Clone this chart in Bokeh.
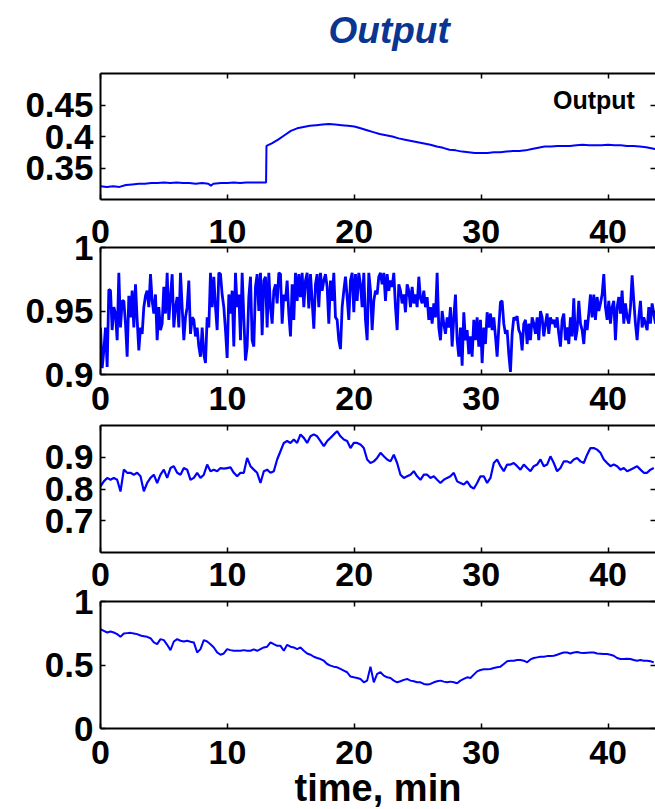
import numpy as np
from bokeh.plotting import figure
from bokeh.models import Range1d, LinearAxis, FixedTicker, Legend, LegendItem, Title
from bokeh.core.properties import value
from bokeh.layouts import column
from bokeh.embed import file_html
from bokeh.resources import INLINE

FONT = "Liberation Sans"
LINE_BLUE = "#0000ff"
TITLE_BLUE = "#0a3591"

# shared time axis, minutes
time_ticks = [0, 10, 20, 30, 40]
time_end = 43.74

# --- panel 1: process output ---
out_t = [0, 0.5, 1, 1.5, 2, 2.5, 3, 3.5, 4, 4.5, 5, 5.5, 6, 6.5, 7, 7.5, 8, 8.5, 8.7, 8.9,
         9.5, 10, 10.5, 11, 11.5, 12, 12.5, 13.05, 13.08, 13.5, 14, 14.5, 15, 15.5, 16, 16.5,
         17, 17.5, 18, 18.5, 19, 19.5, 20, 20.5, 21, 21.5, 22, 22.5, 23, 23.5, 24, 24.5, 25,
         25.5, 26, 26.5, 27, 27.5, 28, 28.5, 29, 29.5, 30, 30.5, 31, 31.5, 32, 32.5, 33, 33.5,
         34, 34.5, 35, 35.5, 36, 36.5, 37, 37.5, 38, 38.5, 39, 39.5, 40, 40.5, 41, 41.5, 42,
         42.5, 43, 43.5, 43.74]
out_v = [0.321, 0.320, 0.321, 0.320, 0.323, 0.324, 0.325, 0.325, 0.326, 0.326, 0.327, 0.326,
         0.327, 0.326, 0.326, 0.325, 0.326, 0.325, 0.322, 0.325, 0.326, 0.326, 0.327, 0.326,
         0.327, 0.327, 0.327, 0.327, 0.385, 0.389, 0.395, 0.402, 0.409, 0.413, 0.415, 0.417,
         0.418, 0.419, 0.420, 0.419, 0.418, 0.417, 0.416, 0.413, 0.410, 0.407, 0.404, 0.402,
         0.400, 0.397, 0.395, 0.393, 0.391, 0.389, 0.387, 0.384, 0.382, 0.379, 0.378, 0.376,
         0.375, 0.374, 0.374, 0.374, 0.375, 0.375, 0.376, 0.377, 0.377, 0.378, 0.380, 0.382,
         0.384, 0.384, 0.385, 0.385, 0.385, 0.386, 0.387, 0.386, 0.386, 0.386, 0.387, 0.386,
         0.386, 0.385, 0.385, 0.384, 0.383, 0.381, 0.380]
out_ticks = [0.35, 0.4, 0.45]
out_tick_labels = ["0.35", "0.4", "0.45"]

# --- panel 2: fast, noisy input ---
fast_step = 0.13134  # minutes between samples
fast_v = [
    0.937, 0.905, 0.919, 0.937, 0.906, 0.967, 0.966, 0.935, 0.953, 0.948,
    0.927, 0.980, 0.937, 0.958, 0.958, 0.940, 0.914, 0.962, 0.945, 0.966,
    0.937, 0.971, 0.943, 0.919, 0.937, 0.932, 0.953, 0.962, 0.966, 0.953,
    0.979, 0.958, 0.948, 0.963, 0.927, 0.953, 0.935, 0.940, 0.969, 0.948,
    0.980, 0.943, 0.961, 0.979, 0.937, 0.953, 0.961, 0.937, 0.980, 0.953,
    0.927, 0.945, 0.953, 0.974, 0.932, 0.945, 0.943, 0.930, 0.937, 0.922,
    0.914, 0.937, 0.916, 0.909, 0.945, 0.937, 0.980, 0.953, 0.977, 0.953,
    0.935, 0.980, 0.979, 0.963, 0.953, 0.935, 0.913, 0.963, 0.948, 0.966,
    0.922, 0.980, 0.953, 0.963, 0.927, 0.980, 0.945, 0.911, 0.922, 0.961,
    0.977, 0.927, 0.922, 0.969, 0.979, 0.950, 0.980, 0.931, 0.974, 0.977,
    0.937, 0.980, 0.953, 0.940, 0.966, 0.971, 0.956, 0.980, 0.979, 0.940,
    0.963,
    0.958, 0.974, 0.948, 0.930, 0.971, 0.943, 0.980, 0.958, 0.979, 0.961,
    0.980, 0.953, 0.974, 0.980, 0.952, 0.979, 0.958, 0.936, 0.971, 0.979,
    0.953, 0.980, 0.966, 0.974, 0.979, 0.969, 0.940, 0.974, 0.958, 0.980,
    0.945, 0.943, 0.927, 0.920, 0.953, 0.966, 0.977, 0.961, 0.943, 0.974,
    0.980, 0.949, 0.979, 0.958, 0.980, 0.971, 0.953, 0.980, 0.943, 0.927,
    0.980, 0.966, 0.935, 0.958, 0.966, 0.963, 0.977, 0.980, 0.971, 0.980,
    0.958, 0.979, 0.966, 0.974, 0.969, 0.980, 0.953, 0.935, 0.971, 0.966,
    0.956, 0.963, 0.949, 0.971, 0.966, 0.953, 0.969, 0.956, 0.963, 0.953,
    0.977, 0.960, 0.956, 0.966, 0.953, 0.961, 0.943, 0.953, 0.940, 0.956,
    0.945, 0.980, 0.937, 0.927, 0.950, 0.940, 0.932, 0.945, 0.937, 0.953,
    0.922, 0.945, 0.963, 0.927, 0.914, 0.937, 0.907, 0.949, 0.927, 0.935,
    0.916,
    0.930, 0.914, 0.943, 0.927, 0.945, 0.922, 0.943, 0.909, 0.937, 0.924,
    0.949, 0.937, 0.948, 0.935, 0.945, 0.930, 0.914, 0.937, 0.957, 0.958,
    0.940, 0.932, 0.935, 0.916, 0.902, 0.932, 0.945, 0.943, 0.946, 0.935,
    0.932, 0.919, 0.940, 0.943, 0.924, 0.940, 0.927, 0.945, 0.940, 0.932,
    0.945, 0.927, 0.950, 0.945, 0.930, 0.940, 0.948, 0.932, 0.945, 0.940,
    0.943, 0.937, 0.945, 0.932, 0.922, 0.943, 0.948, 0.927, 0.937, 0.924,
    0.945, 0.930, 0.960, 0.927, 0.935, 0.958, 0.940, 0.935, 0.924, 0.943,
    0.935, 0.948, 0.963, 0.945, 0.963, 0.943, 0.961, 0.950, 0.956, 0.963,
    0.979, 0.953, 0.943, 0.958, 0.940, 0.953, 0.958, 0.927, 0.953, 0.961,
    0.948, 0.966, 0.940, 0.956, 0.945, 0.940, 0.953, 0.978, 0.958, 0.940,
    0.927, 0.945, 0.958, 0.937, 0.945, 0.940, 0.935, 0.953, 0.940, 0.956,
    0.948, 0.940,
]
fast_ticks = [0.9, 0.95, 1.0]
fast_tick_labels = ["0.9", "0.95", "1"]

# --- panels 3 and 4: slower inputs ---
slow_step = 0.26268  # minutes between samples
mid_v = [
    0.808, 0.824, 0.835, 0.829, 0.835, 0.829, 0.792, 0.861, 0.851, 0.851,
    0.845, 0.851, 0.840, 0.793, 0.819, 0.835, 0.845, 0.819, 0.845, 0.861,
    0.835, 0.866, 0.872, 0.851, 0.845, 0.866, 0.861, 0.829, 0.835, 0.851,
    0.835, 0.845, 0.877, 0.856, 0.861, 0.856, 0.866, 0.864, 0.866, 0.868,
    0.851, 0.840, 0.851, 0.851, 0.898, 0.872, 0.861, 0.851, 0.819, 0.856,
    0.861, 0.851, 0.856, 0.893, 0.919, 0.945, 0.951, 0.945, 0.956, 0.945,
    0.972, 0.961, 0.945, 0.966, 0.972, 0.966,
    0.951, 0.935, 0.951, 0.961, 0.972, 0.982, 0.966, 0.956, 0.951, 0.929,
    0.945, 0.945, 0.940, 0.929, 0.893, 0.882, 0.887, 0.898, 0.914, 0.903,
    0.893, 0.887, 0.908, 0.882, 0.845, 0.835, 0.840, 0.845, 0.856, 0.840,
    0.829, 0.845, 0.845, 0.835, 0.840, 0.829, 0.819, 0.829, 0.835, 0.840,
    0.851, 0.824, 0.819, 0.814, 0.824, 0.808, 0.801, 0.819, 0.840, 0.840,
    0.819, 0.835, 0.882, 0.893, 0.872, 0.856, 0.877, 0.877, 0.882, 0.872,
    0.861, 0.877, 0.866, 0.856, 0.872, 0.877, 0.893, 0.872, 0.877, 0.903,
    0.882, 0.856, 0.866, 0.887, 0.887, 0.882, 0.893, 0.898, 0.887, 0.882,
    0.908, 0.929, 0.929, 0.924, 0.914, 0.893, 0.882, 0.872, 0.877, 0.872,
    0.861, 0.866, 0.856, 0.861, 0.866, 0.872, 0.861, 0.851, 0.851, 0.861,
    0.866,
]
mid_ticks = [0.7, 0.8, 0.9]
mid_tick_labels = ["0.7", "0.8", "0.9"]

low_v = [
    0.782, 0.769, 0.756, 0.764, 0.756, 0.743, 0.722, 0.748, 0.751, 0.753,
    0.748, 0.743, 0.732, 0.727, 0.722, 0.711, 0.678, 0.664, 0.704, 0.696,
    0.659, 0.617, 0.685, 0.704, 0.691, 0.685, 0.691, 0.683, 0.678, 0.599,
    0.625, 0.696, 0.685, 0.664, 0.638, 0.599, 0.581, 0.591, 0.625, 0.617,
    0.612, 0.612, 0.612, 0.617, 0.612, 0.612, 0.623, 0.612, 0.625, 0.638,
    0.644, 0.678, 0.664, 0.651, 0.651, 0.612, 0.659, 0.644, 0.638, 0.625,
    0.638, 0.612, 0.591, 0.581, 0.565, 0.555,
    0.547, 0.534, 0.508, 0.495, 0.487, 0.482, 0.469, 0.456, 0.443, 0.409,
    0.403, 0.398, 0.390, 0.364, 0.377, 0.487, 0.364, 0.430, 0.443, 0.416,
    0.403, 0.398, 0.377, 0.364, 0.372, 0.383, 0.390, 0.377, 0.372, 0.364,
    0.364, 0.351, 0.346, 0.351, 0.364, 0.372, 0.377, 0.369, 0.364, 0.369,
    0.364, 0.356, 0.377, 0.390, 0.403, 0.398, 0.424, 0.450, 0.461, 0.466,
    0.466, 0.469, 0.477, 0.482, 0.487, 0.508, 0.529, 0.534, 0.534, 0.539,
    0.539, 0.534, 0.521, 0.544, 0.555, 0.560, 0.565, 0.565, 0.570, 0.570,
    0.573, 0.581, 0.591, 0.599, 0.599, 0.591, 0.599, 0.602, 0.597, 0.594,
    0.597, 0.599, 0.599, 0.591, 0.589, 0.586, 0.586, 0.581, 0.573, 0.555,
    0.547, 0.547, 0.550, 0.547, 0.539, 0.534, 0.539, 0.534, 0.534, 0.529,
    0.521,
]
low_ticks = [0, 0.5, 1]
low_tick_labels = ["0", "0.5", "1"]

fast_t = np.arange(len(fast_v)) * fast_step
mid_t = np.arange(len(mid_v)) * slow_step
low_t = np.arange(len(low_v)) * slow_step


def style_axis(ax, font_size, show_labels, standoff):
    ax.axis_line_color = "black"
    ax.axis_line_width = 2
    ax.major_tick_in = 5
    ax.major_tick_out = 0
    ax.major_tick_line_color = "black"
    ax.major_tick_line_width = 1.5
    ax.minor_tick_line_color = None
    ax.major_label_text_font = FONT
    ax.major_label_text_font_style = "bold"
    ax.major_label_text_font_size = font_size
    ax.major_label_standoff = standoff
    ax.major_label_text_color = "black" if show_labels else None


def bare_figure(height, border_top, border_bottom, y_lo, y_hi, overlap):
    """Figure with transparent borders, so stacked figures may overlap."""
    p = figure(width=655, height=height,
               x_range=Range1d(0, time_end), y_range=Range1d(y_lo, y_hi),
               output_backend="svg", toolbar_location=None,
               x_axis_location=None, y_axis_location=None,
               min_border_left=100, min_border_right=0,
               min_border_top=border_top, min_border_bottom=border_bottom)
    p.outline_line_color = None
    p.border_fill_color = None
    p.background_fill_color = None
    p.grid.visible = False
    if overlap:
        p.margin = (-overlap, 0, 0, 0)
    return p


def make_panel(height, border_top, border_bottom, y_lo, y_hi, y_ticks, y_labels,
               label_standoff, overlap):
    p = bare_figure(height, border_top, border_bottom, y_lo, y_hi, overlap)
    p.background_fill_color = "white"

    left = LinearAxis(ticker=FixedTicker(ticks=y_ticks),
                      major_label_overrides=dict(zip(y_ticks, y_labels)))
    style_axis(left, "35px", True, 7)
    right = LinearAxis(ticker=FixedTicker(ticks=y_ticks))
    style_axis(right, "35px", False, 0)
    right.axis_line_color = None
    top = LinearAxis(ticker=FixedTicker(ticks=time_ticks))
    style_axis(top, "34px", False, 0)
    bottom = LinearAxis(ticker=FixedTicker(ticks=time_ticks))
    style_axis(bottom, "34px", True, label_standoff)

    p.add_layout(left, "left")
    p.add_layout(right, "right")
    p.add_layout(top, "above")
    p.add_layout(bottom, "below")
    return p


# strip carrying the page title
p0 = bare_figure(51, 50, 0, 0.0, 1.0, 0)
p0.add_layout(Title(text="Output", align="left", offset=228, standoff=0, text_font=FONT,
                    text_font_style="bold italic", text_font_size="37px",
                    text_color=TITLE_BLUE), "above")

# panel 1 -- output, with legend
p1 = make_panel(269, 73, 70, 0.30, 0.50, out_ticks, out_tick_labels, 20, 51)
r1 = p1.line(out_t, out_v, line_color=LINE_BLUE, line_width=2)
legend = Legend(items=[LegendItem(label=value("Output"), renderers=[r1])],
                location="top_right", glyph_width=0, glyph_height=12, label_height=12,
                label_width=89, label_standoff=0, margin=13, padding=2,
                border_line_color=None, background_fill_alpha=0,
                label_text_font=FONT, label_text_font_style="bold",
                label_text_font_size="25px", label_text_color="black")
p1.add_layout(legend)

# panel 2 -- fast input
p2 = make_panel(219, 22, 70, 0.9, 1.0, fast_ticks, fast_tick_labels, 12, 44)
p2.line(fast_t, fast_v, line_color=LINE_BLUE, line_width=2.8)

# panel 3
p3 = make_panel(219, 22, 70, 0.6, 1.0, mid_ticks, mid_tick_labels, 10, 41)
p3.line(mid_t, mid_v, line_color=LINE_BLUE, line_width=2.2)

# panel 4 -- bottom
p4 = make_panel(204, 22, 55, 0.0, 1.0, low_ticks, low_tick_labels, 12, 43)
p4.line(low_t, low_v, line_color=LINE_BLUE, line_width=2)

# strip carrying the time-axis caption under the last panel
p5 = bare_figure(48, 47, 0, 0.0, 1.0, 22)
p5.add_layout(Title(text="time, min", align="center", standoff=0, text_font=FONT,
                    text_font_style="bold", text_font_size="38px",
                    text_color="black"), "above")

layout = column(p0, p1, p2, p3, p4, p5, spacing=0)

with open("out.html", "w") as f:
    f.write(file_html(layout, INLINE))
